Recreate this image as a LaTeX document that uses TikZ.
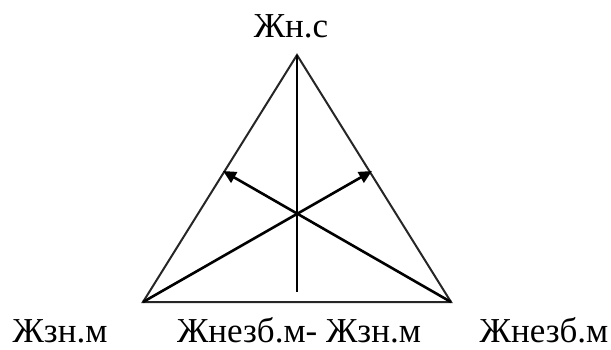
\documentclass[tikz,border=0pt]{standalone}
\usepackage{fontspec}
\setmainfont{Liberation Serif}
\usetikzlibrary{arrows.meta}
\tikzset{
  side/.style={line width=2pt,black!85},
  axis/.style={line width=2.6pt},
  arr/.style={-{Triangle[length=13pt,width=12pt]},line width=2.6pt},
  lbl/.style={font=\fontsize{35}{40}\selectfont,inner sep=0pt,anchor=base},
}
\begin{document}
\begin{tikzpicture}[x=1pt,y=-1pt]
  \useasboundingbox (0,0) rectangle (611,349);
  % vertices of the triangle
  \coordinate (top) at (297,55);
  \coordinate (bl) at (143,302);
  \coordinate (br) at (451,302);
  \coordinate (foot) at (297,292);
  \coordinate (tipL) at (223,171);
  \coordinate (tipR) at (372,171);
  \draw[side] (top) -- (bl) -- (br) -- cycle;
  \draw[axis] (top) -- (foot);
  \draw[arr] (br) -- (tipL);
  \draw[arr] (bl) -- (tipR);
  % labels
  \node[lbl] (ns) at (291,37) {Жн.с};
  \node[lbl] (znm) at (60,342) {Жзн.м};
  \node[lbl] (diff) at (299,342) {Жнезб.м- Жзн.м};
  \node[lbl] (nezb) at (544,342) {Жнезб.м};
\end{tikzpicture}
\end{document}
